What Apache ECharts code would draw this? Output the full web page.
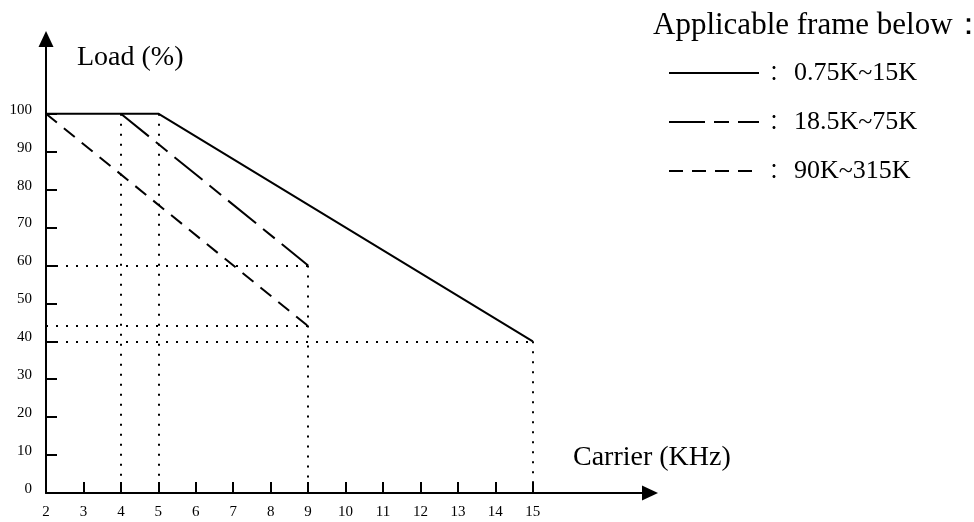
<!DOCTYPE html>
<html>
<head>
<meta charset="utf-8">
<script src="https://cdn.jsdelivr.net/npm/echarts@6/dist/echarts.min.js"></script>
<style>
  html, body { margin: 0; padding: 0; background: #fff; }
  #chart { width: 974px; height: 522px; }
</style>
</head>
<body>
<div id="chart"></div>
<script>
var serif = "'Liberation Serif', 'Times New Roman', serif";

// derating curves: carrier frequency (kHz) -> allowed load (%)
var frames = ['0.75K~15K', '18.5K~75K', '90K~315K'];
var solidX = [2, 5, 15];
var solidY = [100, 100, 40];
var longDashX = [4, 9];
var longDashY = [100, 60];
var shortDashX = [2, 9];
var shortDashY = [100, 44];

// axis labels / ticks
var xLabels = [2, 3, 4, 5, 6, 7, 8, 9, 10, 11, 12, 13, 14, 15];
var xTicks = [3, 4, 5, 6, 7, 8, 9, 10, 11, 12, 13, 14, 15];
var yLabels = [0, 10, 20, 30, 40, 50, 60, 70, 80, 90, 100];
var yTicks = [10, 20, 30, 40, 50, 60, 70, 80, 90, 100];

function pairs(xs, ys) {
  return xs.map(function (x, i) { return [x, ys[i]]; });
}

// dotted guides: drop from knee / end points to the axes
var xMin = xLabels[0];
var drops = {};
var guides = [];
[[solidX, solidY], [longDashX, longDashY], [shortDashX, shortDashY]].forEach(function (s) {
  s[0].forEach(function (x, i) {
    var y = s[1][i];
    if (x > xMin) drops[x] = Math.max(drops[x] || 0, y);
    if (y < 100) guides.push([{ coord: [xMin, y] }, { coord: [x, y] }]);
  });
});
Object.keys(drops).forEach(function (k) {
  var x = +k;
  guides.push([{ coord: [x, drops[k]] }, { coord: [x, 0] }]);
});

var chart = echarts.init(document.getElementById('chart'));

var axisLineStyle = { color: '#000', width: 2 };

chart.setOption({
  animation: false,
  textStyle: { fontFamily: serif, color: '#000' },
  grid: { left: 46, right: 324, top: 39, bottom: 29 },
  legend: {
    orient: 'vertical',
    left: 663,
    top: 55,
    itemWidth: 90,
    itemHeight: 30,
    itemGap: 23,
    selectedMode: false,
    data: frames,
    itemStyle: { color: 'transparent', borderColor: 'transparent', borderWidth: 0, opacity: 0 },
    formatter: function (n) { return '{c|：}' + n; },
    textStyle: {
      fontFamily: serif,
      fontSize: 26,
      color: '#000',
      rich: {
        c: { fontFamily: "'Noto Sans CJK JP'", fontSize: 20, width: 30, color: '#000' }
      }
    }
  },
  graphic: [
    { type: 'text', left: 653, top: 10, style: { text: 'Applicable frame below：', font: '31px ' + serif, fill: '#000' } },
    { type: 'text', left: 77, top: 44, style: { text: 'Load (%)', font: '28px ' + serif, fill: '#000' } },
    { type: 'text', left: 573, top: 444, style: { text: 'Carrier (KHz)', font: '28px ' + serif, fill: '#000' } }
  ],
  xAxis: {
    type: 'value',
    min: 2,
    max: 18.13,
    splitLine: { show: false },
    axisLine: { show: true, lineStyle: axisLineStyle, symbol: ['none', 'triangle'], symbolSize: [15, 16] },
    axisTick: { show: true, inside: true, length: 11, lineStyle: axisLineStyle, customValues: xTicks },
    axisLabel: { customValues: xLabels, fontSize: 15, color: '#000', fontFamily: serif, margin: 12 }
  },
  yAxis: {
    type: 'value',
    min: 0,
    max: 119.7,
    splitLine: { show: false },
    axisLine: { show: true, lineStyle: axisLineStyle, symbol: ['none', 'triangle'], symbolSize: [15, 16] },
    axisTick: { show: true, inside: true, length: 11, lineStyle: axisLineStyle, customValues: yTicks },
    axisLabel: { customValues: yLabels, fontSize: 15, color: '#000', fontFamily: serif, margin: 14, verticalAlign: 'bottom', lineHeight: 8 }
  },
  series: [
    {
      name: frames[0],
      type: 'line',
      symbol: 'none',
      data: pairs(solidX, solidY),
      lineStyle: { color: '#000', width: 2, type: 'solid' },
      itemStyle: { color: '#000' },
      z: 3,
      markLine: {
        silent: true,
        symbol: ['none', 'none'],
        label: { show: false },
        lineStyle: { color: '#000', width: 2, type: [2, 8] },
        emphasis: { disabled: true },
        data: guides
      }
    },
    {
      name: frames[1],
      type: 'line',
      symbol: 'none',
      data: pairs(longDashX, longDashY),
      lineStyle: { color: '#000', width: 2, type: [36, 9, 15, 9] },
      itemStyle: { color: '#000' },
      z: 3
    },
    {
      name: frames[2],
      type: 'line',
      symbol: 'none',
      data: pairs(shortDashX, shortDashY),
      lineStyle: { color: '#000', width: 2, type: [14, 9] },
      itemStyle: { color: '#000' },
      z: 3
    }
  ]
});
</script>
</body>
</html>
